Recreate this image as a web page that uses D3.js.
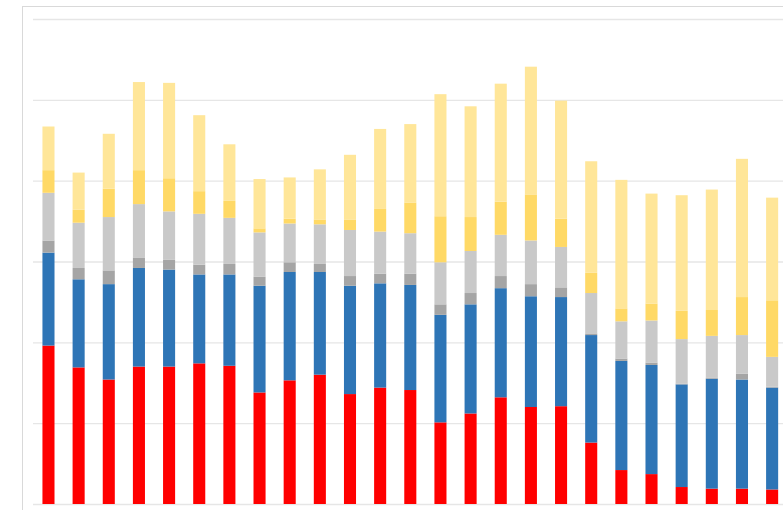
<!DOCTYPE html>
<html>
<head>
<meta charset="utf-8">
<script src="https://cdn.jsdelivr.net/npm/d3@7"></script>
<style>
  body { margin: 0; background: #fff; }
  svg { display: block; }
</style>
</head>
<body>
<div id="chart"></div>
<script>
// values, one array per series (bottom to top)
const categories = d3.range(1, 26).map(String);
const redValues    = [19.6, 16.9, 15.4, 17.0, 17.0, 17.4, 17.1, 13.8, 15.3, 16.0, 13.6, 14.4, 14.1, 10.1, 11.2, 13.2, 12.0, 12.1, 7.6, 4.2, 3.7, 2.1, 1.9, 1.9, 1.8];
const blueValues   = [11.5, 10.9, 11.8, 12.2, 12.0, 11.0, 11.3, 13.2, 13.4, 12.7, 13.4, 12.9, 13.0, 13.3, 13.5, 13.5, 13.7, 13.5, 13.3, 13.5, 13.5, 12.7, 13.6, 13.5, 12.6];
const darkGreyValues  = [1.5, 1.4, 1.7, 1.3, 1.2, 1.2, 1.3, 1.1, 1.2, 1.0, 1.2, 1.2, 1.4, 1.3, 1.4, 1.5, 1.5, 1.2, 0.2, 0.3, 0.3, 0.1, 0.1, 0.7, 0.1];
const lightGreyValues = [5.9, 5.6, 6.6, 6.6, 6.0, 6.3, 5.7, 5.5, 4.8, 4.9, 5.7, 5.2, 5.0, 5.2, 5.2, 5.1, 5.4, 5.0, 5.0, 4.6, 5.2, 5.5, 5.2, 4.8, 3.7];
const goldValues   = [2.8, 1.6, 3.5, 4.2, 4.1, 2.8, 2.1, 0.5, 0.6, 0.6, 1.3, 2.8, 3.8, 5.7, 4.2, 4.1, 5.7, 3.5, 2.5, 1.6, 2.1, 3.5, 3.2, 4.7, 7.0];
const yellowValues = [5.4, 4.6, 6.8, 10.9, 11.8, 9.4, 7.0, 6.1, 5.1, 6.2, 8.0, 9.9, 9.7, 15.1, 13.7, 14.6, 15.8, 14.6, 13.8, 15.9, 13.6, 14.3, 14.9, 17.1, 12.7];
const yTicks = [0, 10, 20, 30, 40, 50, 60];

const seriesKeys = ["red", "blue", "darkGrey", "lightGrey", "gold", "yellow"];
const seriesColors = ["#ff0000", "#2e75b6", "#a5a5a5", "#c9c9c9", "#ffd966", "#ffe699"];

const rows = categories.map((c, i) => ({
    cat: c,
    red: redValues[i],
    blue: blueValues[i],
    darkGrey: darkGreyValues[i],
    lightGrey: lightGreyValues[i],
    gold: goldValues[i],
    yellow: yellowValues[i]
}));

const width = 783, height = 510;
const plot = { left: 33.4, right: 787.2, top: 19, bottom: 504 };

const svg = d3.select("#chart")
    .append("svg")
    .attr("width", width)
    .attr("height", height);

// chart area border (runs off the right and bottom of the picture)
svg.append("rect")
    .attr("x", 22.5)
    .attr("y", 6.5)
    .attr("width", 800)
    .attr("height", 520)
    .attr("fill", "none")
    .attr("stroke", "#d9d9d9")
    .attr("stroke-width", 1);

const x = d3.scaleBand()
    .domain(categories)
    .range([plot.left, plot.right])
    .paddingInner(0.6)
    .paddingOuter(0.3);

const y = d3.scaleLinear()
    .domain([0, 60])
    .range([plot.bottom, plot.top]);

// gridlines
svg.append("g")
    .attr("class", "grid")
    .attr("transform", `translate(${plot.left - 0.4},0)`)
    .call(d3.axisLeft(y).tickValues(yTicks).tickSize(-(width - plot.left + 10)).tickFormat(""))
    .call(g => g.select(".domain").remove())
    .selectAll("line")
    .attr("stroke", "#e6e6e6")
    .attr("stroke-width", 1.3);

const stacked = d3.stack().keys(seriesKeys)(rows);

svg.append("g")
    .selectAll("g")
    .data(stacked)
    .enter()
    .append("g")
    .attr("fill", (d, i) => seriesColors[i])
    .selectAll("rect")
    .data(d => d)
    .enter()
    .append("rect")
    .attr("x", d => x(d.data.cat))
    .attr("y", d => y(d[1]))
    .attr("width", x.bandwidth())
    .attr("height", d => Math.max(0, y(d[0]) - y(d[1])));
</script>
</body>
</html>
